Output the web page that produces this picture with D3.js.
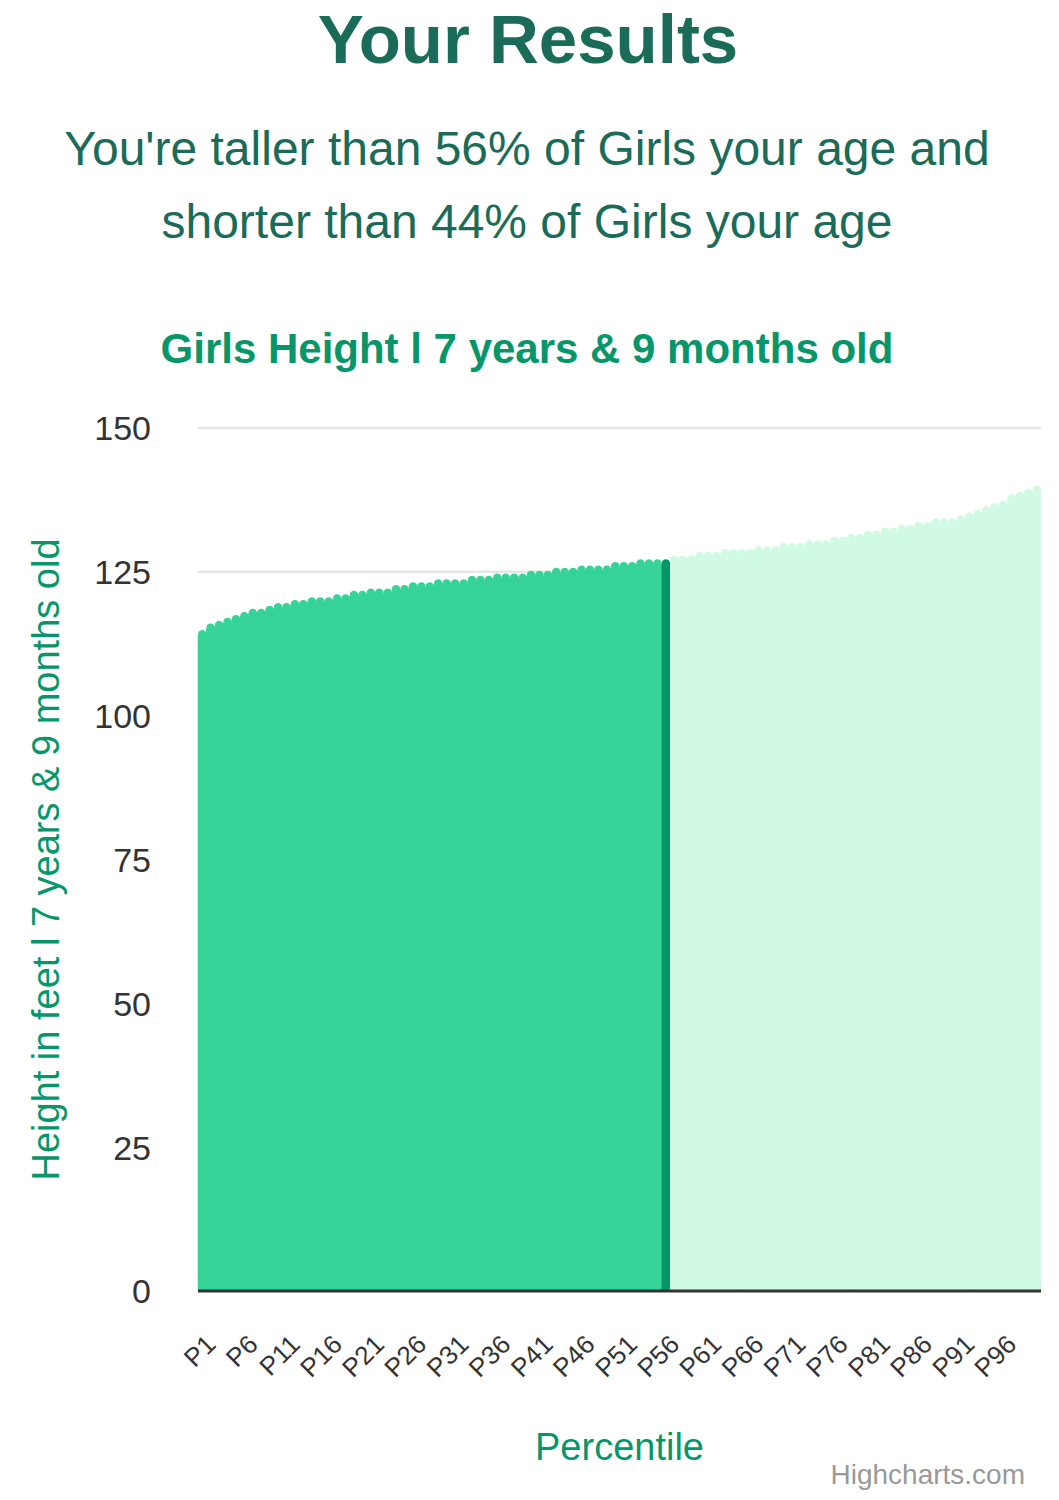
<!DOCTYPE html>
<html>
<head>
<meta charset="utf-8">
<script src="https://cdn.jsdelivr.net/npm/d3@7"></script>
<style>
  body { margin: 0; background: #fff; }
  svg { display: block; font-family: "Liberation Sans", Arial, Helvetica, sans-serif; }
</style>
</head>
<body>
<div id="chart"></div>
<script>
const categories = [
  "P1","P2","P3","P4","P5","P6","P7","P8","P9","P10",
  "P11","P12","P13","P14","P15","P16","P17","P18","P19","P20",
  "P21","P22","P23","P24","P25","P26","P27","P28","P29","P30",
  "P31","P32","P33","P34","P35","P36","P37","P38","P39","P40",
  "P41","P42","P43","P44","P45","P46","P47","P48","P49","P50",
  "P51","P52","P53","P54","P55","P56","P57","P58","P59","P60",
  "P61","P62","P63","P64","P65","P66","P67","P68","P69","P70",
  "P71","P72","P73","P74","P75","P76","P77","P78","P79","P80",
  "P81","P82","P83","P84","P85","P86","P87","P88","P89","P90",
  "P91","P92","P93","P94","P95","P96","P97","P98","P99","P100"
];
const heights = [
  114.9, 116.0, 116.5, 117.0, 117.5, 118.0, 118.6, 118.6, 119.1, 119.6,
  119.6, 120.1, 120.1, 120.6, 120.6, 120.6, 121.1, 121.1, 121.7, 121.7,
  122.1, 122.1, 122.1, 122.7, 122.7, 123.2, 123.2, 123.2, 123.7, 123.7,
  123.7, 123.7, 124.3, 124.3, 124.3, 124.7, 124.7, 124.7, 124.7, 125.2,
  125.2, 125.2, 125.7, 125.7, 125.7, 126.1, 126.1, 126.1, 126.1, 126.7,
  126.7, 126.7, 127.2, 127.2, 127.2, 127.2, 127.8, 127.8, 127.9, 128.5,
  128.5, 128.5, 129.0, 129.0, 129.0, 129.0, 129.5, 129.5, 129.5, 130.0,
  130.0, 130.0, 130.5, 130.5, 130.5, 131.1, 131.1, 131.6, 131.6, 132.2,
  132.2, 132.7, 132.7, 133.2, 133.2, 133.7, 133.7, 134.3, 134.3, 134.3,
  134.8, 135.3, 135.8, 136.4, 136.9, 137.4, 138.4, 138.9, 139.4, 140.0
];
const userPercentile = "P56";
const xTickLabels = ["P1","P6","P11","P16","P21","P26","P31","P36","P41","P46",
  "P51","P56","P61","P66","P71","P76","P81","P86","P91","P96"];
const yTicks = [0, 25, 50, 75, 100, 125, 150];

const pageTitle = "Your Results";
const summaryLines = [
  "You're taller than 56% of Girls your age and",
  "shorter than 44% of Girls your age"
];
const chartTitle = "Girls Height l 7 years & 9 months old";
const yTitle = "Height in feet l 7 years & 9 months old";
const xTitle = "Percentile";

const width = 1059;
const height = 1500;
const plot = { left: 198, right: 1041, top: 428, bottom: 1291 };

const svg = d3.select("#chart").append("svg")
  .attr("width", width)
  .attr("height", height);

// headings
svg.append("text")
  .attr("x", 528).attr("y", 63)
  .attr("text-anchor", "middle")
  .attr("font-size", 69).attr("font-weight", "bold")
  .attr("fill", "#1a6b58")
  .text(pageTitle);

svg.selectAll(".summary")
  .data(summaryLines)
  .enter().append("text")
  .attr("class", "summary")
  .attr("x", 527)
  .attr("y", (d, i) => 165 + i * 73)
  .attr("text-anchor", "middle")
  .attr("font-size", 48)
  .attr("fill", "#1a6b58")
  .text(d => d);

svg.append("text")
  .attr("x", 527).attr("y", 363)
  .attr("text-anchor", "middle")
  .attr("font-size", 42).attr("font-weight", "bold")
  .attr("fill", "#079669")
  .text(chartTitle);

const x = d3.scaleBand()
  .domain(categories)
  .range([plot.left, plot.right])
  .padding(0);

const y = d3.scaleLinear()
  .domain([0, 150])
  .range([plot.bottom, plot.top]);

// gridlines
svg.append("g")
  .selectAll("line")
  .data(yTicks.filter(d => d > 0))
  .enter().append("line")
  .attr("x1", plot.left).attr("x2", plot.right)
  .attr("y1", d => y(d)).attr("y2", d => y(d))
  .attr("stroke", "#e6e6e6")
  .attr("stroke-width", 2.5);

// bars with rounded tops
const userIndex = categories.indexOf(userPercentile);
const barColor = i => i < userIndex ? "#36d399" : i === userIndex ? "#069668" : "#d1fae5";

function barPath(d, i) {
  const x0 = x(categories[i]);
  const w = x.bandwidth();
  const top = y(d);
  const base = y(0);
  const r = Math.min(4.2, w / 2);
  return `M${x0},${base}V${top + r}A${r},${r} 0 0 1 ${x0 + r},${top}` +
    `H${x0 + w - r}A${r},${r} 0 0 1 ${x0 + w},${top + r}V${base}Z`;
}

// solid body under the rounded tops so no seams show between bars
svg.append("g")
  .selectAll("rect")
  .data(heights)
  .enter().append("rect")
  .attr("x", (d, i) => x(categories[i]) - 0.3)
  .attr("width", x.bandwidth() + 0.6)
  .attr("y", d => y(d) + 5)
  .attr("height", d => y(0) - y(d) - 5)
  .attr("fill", (d, i) => barColor(i));

svg.append("g")
  .selectAll("path")
  .data(heights)
  .enter().append("path")
  .attr("d", barPath)
  .attr("fill", (d, i) => barColor(i));

// baseline
svg.append("line")
  .attr("x1", plot.left).attr("x2", plot.right)
  .attr("y1", y(0)).attr("y2", y(0))
  .attr("stroke", "#333333")
  .attr("stroke-width", 3);

// y axis labels
const yAxis = d3.axisLeft(y).tickValues(yTicks).tickSize(0).tickPadding(0);
const yAxisG = svg.append("g")
  .attr("transform", `translate(151,0)`)
  .call(yAxis);
yAxisG.select(".domain").remove();
yAxisG.selectAll("text")
  .attr("font-family", "Liberation Sans, Arial, sans-serif")
  .attr("font-size", 34)
  .attr("fill", "#333333")
  .attr("dy", "0.35em");

// x axis labels
const xAxis = d3.axisBottom(x).tickValues(xTickLabels).tickSize(0).tickPadding(0);
const xAxisG = svg.append("g")
  .attr("transform", `translate(0,1346)`)
  .call(xAxis);
xAxisG.select(".domain").remove();
xAxisG.selectAll("text")
  .attr("font-family", "Liberation Sans, Arial, sans-serif")
  .attr("font-size", 26)
  .attr("fill", "#333333")
  .attr("y", 0).attr("dy", 0)
  .attr("text-anchor", "end")
  .attr("transform", "translate(15,0) rotate(-45)");

// axis titles
svg.append("text")
  .attr("transform", `translate(59,${(plot.top + plot.bottom) / 2}) rotate(-90)`)
  .attr("text-anchor", "middle")
  .attr("font-size", 38)
  .attr("fill", "#079669")
  .text(yTitle);

svg.append("text")
  .attr("x", (plot.left + plot.right) / 2).attr("y", 1460)
  .attr("text-anchor", "middle")
  .attr("font-size", 38)
  .attr("fill", "#079669")
  .text(xTitle);

// credits
svg.append("text")
  .attr("x", 1025).attr("y", 1484)
  .attr("text-anchor", "end")
  .attr("font-size", 28)
  .attr("fill", "#999999")
  .text("Highcharts.com");
</script>
</body>
</html>
